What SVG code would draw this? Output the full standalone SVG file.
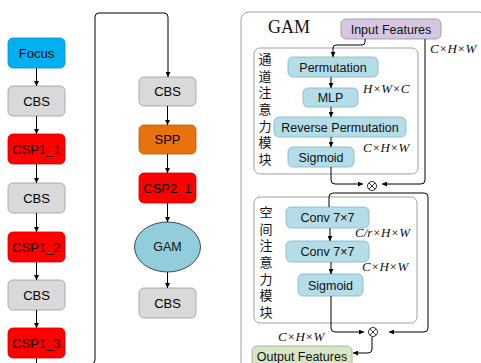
<svg xmlns="http://www.w3.org/2000/svg" width="481" height="363" viewBox="0 0 481 363">
  <defs>
    <marker id="arr" viewBox="0 0 10 10" refX="10" refY="5" markerWidth="5" markerHeight="5" orient="auto" markerUnits="userSpaceOnUse">
      <path d="M0,0 L10,5 L0,10 z" fill="#000"/>
    </marker>
    <style>
      .box { stroke: #9a9a9a; stroke-width: 0.8; }
      .cbs { fill: #d9d9d9; }
      .csp { fill: #ff0000; stroke: #c00000; }
      .focus { fill: #00b0f0; stroke: #0090c8; }
      .spp { fill: #e8720c; stroke: #b85a08; }
      .mod { fill: #b4dde8; stroke: #7fb5c8; stroke-width: 0.8; }
      .lbl { font-family: "Liberation Sans", Arial, sans-serif; font-size: 13px; fill: #000; text-anchor: middle; dominant-baseline: central; }
      .glbl { font-family: "Liberation Sans", Arial, sans-serif; font-size: 12.5px; fill: #111; text-anchor: middle; dominant-baseline: central; }
      .dim { font-family: "Liberation Serif", "Times New Roman", serif; font-style: italic; font-size: 13px; fill: #111; }
      .cjk { font-family: "Noto Sans CJK SC", sans-serif; font-size: 13px; fill: #111; writing-mode: vertical-rl; letter-spacing: 3.7px; }
      .wire { fill: none; stroke: #000; stroke-width: 1; }
      .panel { fill: none; stroke: #a0a0a0; stroke-width: 1; }
    </style>
  </defs>
  <rect width="481" height="363" fill="#fff"/>

  <!-- backbone column -->
  <g id="focus"><rect class="box focus" x="8" y="38" width="57" height="30" rx="5"/><text class="lbl" x="36.5" y="53">Focus</text></g>
  <g id="cbs1"><rect class="box cbs" x="8" y="86" width="57" height="30" rx="5"/><text class="lbl" x="36.5" y="101">CBS</text></g>
  <g id="csp1_1"><rect class="box csp" x="8" y="134" width="57" height="30" rx="5"/><text class="lbl" x="36.5" y="149">CSP1_1</text></g>
  <g id="cbs2"><rect class="box cbs" x="8" y="183" width="57" height="30" rx="5"/><text class="lbl" x="36.5" y="198">CBS</text></g>
  <g id="csp1_2"><rect class="box csp" x="8" y="232" width="57" height="30" rx="5"/><text class="lbl" x="36.5" y="247">CSP1_2</text></g>
  <g id="cbs3"><rect class="box cbs" x="8" y="280" width="57" height="30" rx="5"/><text class="lbl" x="36.5" y="295">CBS</text></g>
  <g id="csp1_3"><rect class="box csp" x="8" y="328" width="57" height="30" rx="5"/><text class="lbl" x="36.5" y="343">CSP1_3</text></g>

  <!-- neck column -->
  <g id="cbs4"><rect class="box cbs" x="139" y="77" width="57" height="29" rx="5"/><text class="lbl" x="167.5" y="91.5">CBS</text></g>
  <g id="spp"><rect class="box spp" x="139" y="125" width="57" height="29" rx="5"/><text class="lbl" x="167.5" y="139.5">SPP</text></g>
  <g id="csp2_1"><rect class="box csp" x="139" y="173" width="57" height="30" rx="5"/><text class="lbl" x="167.5" y="188">CSP2_1</text></g>
  <g id="gam"><ellipse cx="167.5" cy="247" rx="33" ry="25" fill="#92cddc" stroke="#222" stroke-width="0.8"/><text class="glbl" x="167.5" y="247">GAM</text></g>
  <g id="cbs5"><rect class="box cbs" x="139" y="288" width="57" height="30" rx="5"/><text class="lbl" x="167.5" y="303">CBS</text></g>

  <!-- GAM detail panel -->
  <g id="gam-panel">
    <rect class="panel" x="241" y="12" width="246" height="370" rx="8"/>
    <text x="289" y="33" font-family="Liberation Serif, 'Times New Roman', serif" font-size="18" text-anchor="middle" fill="#111">GAM</text>
  </g>
  <g id="channel-block">
    <rect class="panel" x="254" y="48" width="164" height="126" rx="6" stroke="#b0b0b0"/>
    <text class="cjk" x="265" y="52.5">通道注意力模块</text>
  </g>
  <g id="spatial-block">
    <rect class="panel" x="254" y="197" width="163" height="126" rx="6" stroke="#b0b0b0"/>
    <text class="cjk" x="266" y="205.5">空间注意力模块</text>
  </g>

  <g id="input-features"><rect x="341" y="19" width="100" height="20" rx="5" fill="#d5c7e0" stroke="#9a8aa8" stroke-width="0.8"/><text class="glbl" x="391" y="29.5">Input Features</text></g>
  <g id="permutation"><rect class="mod" x="288" y="57" width="90" height="20" rx="5"/><text class="glbl" x="333" y="67.5">Permutation</text></g>
  <g id="mlp"><rect class="mod" x="303" y="88" width="55" height="19" rx="5"/><text class="glbl" x="330.5" y="98">MLP</text></g>
  <g id="reverse-permutation"><rect class="mod" x="274" y="117" width="132" height="20" rx="5"/><text class="glbl" x="340" y="127.5">Reverse Permutation</text></g>
  <g id="sigmoid1"><rect class="mod" x="288" y="147" width="66" height="20" rx="5"/><text class="glbl" x="321" y="157.5">Sigmoid</text></g>
  <g id="conv1"><rect class="mod" x="286" y="207" width="83" height="21" rx="5"/><text class="glbl" x="327.5" y="218">Conv 7×7</text></g>
  <g id="conv2"><rect class="mod" x="286" y="241" width="83" height="21" rx="5"/><text class="glbl" x="327.5" y="252">Conv 7×7</text></g>
  <g id="sigmoid2"><rect class="mod" x="298" y="274" width="65" height="22" rx="5"/><text class="glbl" x="330.5" y="285.5">Sigmoid</text></g>
  <g id="output-features"><rect x="252" y="346" width="100" height="24" rx="5" fill="#d8e5c5" stroke="#9aab88" stroke-width="0.8"/><text class="glbl" x="302" y="356.5">Output Features</text></g>

  <g id="mul1"><circle cx="372" cy="186" r="4.5" fill="#fff" stroke="#000" stroke-width="0.8"/><path d="M368.8,182.8 L375.2,189.2 M375.2,182.8 L368.8,189.2" stroke="#000" stroke-width="0.8"/></g>
  <g id="mul2"><circle cx="373" cy="332" r="4.5" fill="#fff" stroke="#000" stroke-width="0.8"/><path d="M369.8,328.8 L376.2,335.2 M376.2,328.8 L369.8,335.2" stroke="#000" stroke-width="0.8"/></g>

  <!-- dimension labels -->
  <g id="dims">
    <text class="dim" x="430" y="53">C×H×W</text>
    <text class="dim" x="363" y="93">H×W×C</text>
    <text class="dim" x="363" y="152">C×H×W</text>
    <text class="dim" x="355" y="237">C/r×H×W</text>
    <text class="dim" x="362" y="271">C×H×W</text>
    <text class="dim" x="278" y="341">C×H×W</text>
  </g>

  <!-- connectors -->
  <g id="connectors" class="wire">
    <path d="M36.5,68 V86" marker-end="url(#arr)"/>
    <path d="M36.5,116 V134" marker-end="url(#arr)"/>
    <path d="M36.5,164 V183" marker-end="url(#arr)"/>
    <path d="M36.5,213 V232" marker-end="url(#arr)"/>
    <path d="M36.5,262 V280" marker-end="url(#arr)"/>
    <path d="M36.5,310 V328" marker-end="url(#arr)"/>
    <path d="M36.5,358 V366"/>
    <path d="M91,364 Q95,364 95,360 V17 Q95,13 99,13 H164 Q168,13 168,17 V77" marker-end="url(#arr)"/>
    <path d="M167.5,106 V125" marker-end="url(#arr)"/>
    <path d="M167.5,154 V173" marker-end="url(#arr)"/>
    <path d="M167.5,203 V222" marker-end="url(#arr)"/>
    <path d="M167.5,272 V288" marker-end="url(#arr)"/>

    <path d="M365,39 V42 Q365,45 362,45 H336 Q333,45 333,48 V57" marker-end="url(#arr)"/>
    <path d="M331,77 V88" marker-end="url(#arr)"/>
    <path d="M331,107 V117" marker-end="url(#arr)"/>
    <path d="M331,137 V147" marker-end="url(#arr)"/>
    <path d="M331,167 V180 Q331,184 335,184 H363" marker-end="url(#arr)"/>
    <path d="M425,39 V180 Q425,184 421,184 H382" marker-end="url(#arr)"/>
    <path d="M329,207 V197 Q329,193 333,193 H424 Q428,193 428,197 V328 Q428,332 424,332 H389" marker-end="url(#arr)"/>
    <path d="M330,228 V241" marker-end="url(#arr)"/>
    <path d="M331,262 V274" marker-end="url(#arr)"/>
    <path d="M331,296 V328 Q331,332 335,332 H364" marker-end="url(#arr)"/>
    <path d="M372,337 V349 Q372,353 368,353 H353" marker-end="url(#arr)"/>
  </g>
</svg>
